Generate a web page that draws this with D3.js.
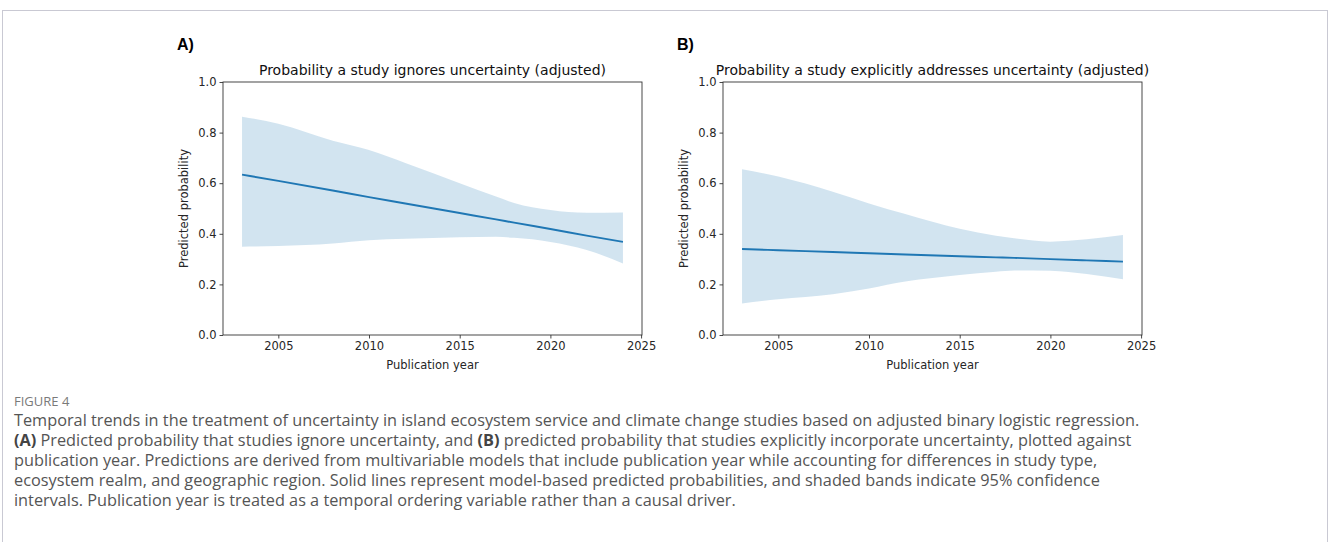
<!DOCTYPE html>
<html>
<head>
<meta charset="utf-8">
<script src="https://cdn.jsdelivr.net/npm/d3@7"></script>
<style>
  body { margin: 0; background: #fff; }
  svg { display: block; }
</style>
</head>
<body>
<svg id="fig" width="1330" height="542"></svg>
<script>
// Values
const years = [2003, 2005, 2008, 2010, 2012, 2015, 2017, 2018, 2020, 2022, 2024];

const ignoreFit   = [0.634, 0.609, 0.571, 0.545, 0.520, 0.482, 0.457, 0.444, 0.419, 0.393, 0.368];
const ignoreUpper = [0.863, 0.835, 0.768, 0.731, 0.680, 0.600, 0.547, 0.522, 0.494, 0.483, 0.484];
const ignoreLower = [0.349, 0.352, 0.362, 0.375, 0.380, 0.386, 0.388, 0.384, 0.368, 0.336, 0.283];

const addressFit   = [0.340, 0.335, 0.328, 0.323, 0.318, 0.311, 0.307, 0.305, 0.300, 0.295, 0.290];
const addressUpper = [0.655, 0.626, 0.566, 0.520, 0.478, 0.420, 0.392, 0.382, 0.369, 0.378, 0.395];
const addressLower = [0.125, 0.141, 0.161, 0.184, 0.211, 0.237, 0.250, 0.255, 0.254, 0.241, 0.220];

const xTicks = [2005, 2010, 2015, 2020, 2025];
const yTicks = [0.0, 0.2, 0.4, 0.6, 0.8, 1.0];

const panels = [
  { tag: 'A)', title: 'Probability a study ignores uncertainty (adjusted)',
    fit: ignoreFit, upper: ignoreUpper, lower: ignoreLower, left: 223 },
  { tag: 'B)', title: 'Probability a study explicitly addresses uncertainty (adjusted)',
    fit: addressFit, upper: addressUpper, lower: addressLower, left: 723 }
];

const captionLines = [
  [['Temporal trends in the treatment of uncertainty in island ecosystem service and climate change studies based on adjusted binary logistic regression.', false]],
  [['(A)', true], [' Predicted probability that studies ignore uncertainty, and ', false], ['(B)', true],
   [' predicted probability that studies explicitly incorporate uncertainty, plotted against', false]],
  [['publication year. Predictions are derived from multivariable models that include publication year while accounting for differences in study type,', false]],
  [['ecosystem realm, and geographic region. Solid lines represent model-based predicted probabilities, and shaded bands indicate 95% confidence', false]],
  [['intervals. Publication year is treated as a temporal ordering variable rather than a causal driver.', false]]
];

const svg = d3.select('#fig');
const plotFont = '"DejaVu Sans", sans-serif';
const blue = '#1f77b4';

// outer frame
svg.append('rect')
  .attr('x', 2.5).attr('y', 10.5)
  .attr('width', 1325).attr('height', 560)
  .attr('fill', 'none')
  .attr('stroke', '#c9c9d3')
  .attr('stroke-width', 1);

const plotTop = 82, plotBottom = 335, plotWidth = 419;

function drawPanel(p) {
  const x = d3.scaleLinear().domain([2001.95, 2025.05]).range([p.left, p.left + plotWidth]);
  const y = d3.scaleLinear().domain([0, 1]).range([plotBottom, plotTop]);
  const g = svg.append('g');
  const rows = years.map((yr, i) => ({ yr, fit: p.fit[i], lo: p.lower[i], hi: p.upper[i] }));

  // confidence band
  g.append('path')
    .datum(rows)
    .attr('d', d3.area()
      .x(d => x(d.yr)).y0(d => y(d.lo)).y1(d => y(d.hi))
      .curve(d3.curveMonotoneX))
    .attr('fill', blue)
    .attr('fill-opacity', 0.2);

  // fitted line
  g.append('path')
    .datum(rows)
    .attr('d', d3.line().x(d => x(d.yr)).y(d => y(d.fit)).curve(d3.curveMonotoneX))
    .attr('fill', 'none')
    .attr('stroke', blue)
    .attr('stroke-width', 1.9);

  // axes
  const xAxis = g.append('g')
    .attr('transform', `translate(0,${plotBottom})`)
    .call(d3.axisBottom(x).tickValues(xTicks).tickFormat(d3.format('d')).tickSize(3.5).tickPadding(3));
  const yAxis = g.append('g')
    .attr('transform', `translate(${p.left},0)`)
    .call(d3.axisLeft(y).tickValues(yTicks).tickFormat(d3.format('.1f')).tickSize(3.5).tickPadding(3));
  [xAxis, yAxis].forEach(a => {
    a.select('.domain').remove();
    a.selectAll('line').attr('stroke', '#333').attr('stroke-width', 0.9);
    a.selectAll('text').attr('fill', '#262626').style('font', `11.5px ${plotFont}`);
  });

  // spines
  g.append('rect')
    .attr('x', p.left).attr('y', plotTop)
    .attr('width', plotWidth).attr('height', plotBottom - plotTop)
    .attr('fill', 'none')
    .attr('stroke', '#333')
    .attr('stroke-width', 0.9);

  g.append('text')
    .attr('x', p.left + plotWidth / 2).attr('y', 75)
    .attr('text-anchor', 'middle')
    .attr('fill', '#111')
    .style('font', `14px ${plotFont}`)
    .text(p.title);

  g.append('text')
    .attr('x', p.left + plotWidth / 2).attr('y', 369)
    .attr('text-anchor', 'middle')
    .attr('fill', '#262626')
    .style('font', `11.5px ${plotFont}`)
    .text('Publication year');

  g.append('text')
    .attr('transform', `translate(${p.left - 35},${(plotTop + plotBottom) / 2}) rotate(-90)`)
    .attr('text-anchor', 'middle')
    .attr('fill', '#262626')
    .style('font', `11.5px ${plotFont}`)
    .text('Predicted probability');

  g.append('text')
    .attr('x', p.left - 46).attr('y', 50)
    .attr('fill', '#000')
    .style('font', `bold 16px "Liberation Sans", Arial, sans-serif`)
    .text(p.tag);
}

panels.forEach(drawPanel);

// caption
svg.append('text')
  .attr('x', 14).attr('y', 406)
  .attr('fill', '#7a7a7a')
  .style('font', '13px "Open Sans", sans-serif')
  .text('FIGURE 4');

captionLines.forEach((parts, i) => {
  const t = svg.append('text')
    .attr('x', 14).attr('y', 426 + i * 20)
    .attr('fill', '#555')
    .style('font', '16.3px "Open Sans", sans-serif');
  parts.forEach(([s, bold]) => {
    t.append('tspan')
      .attr('font-weight', bold ? 700 : 400)
      .attr('fill', bold ? '#444' : '#555')
      .text(s);
  });
});
</script>
</body>
</html>
